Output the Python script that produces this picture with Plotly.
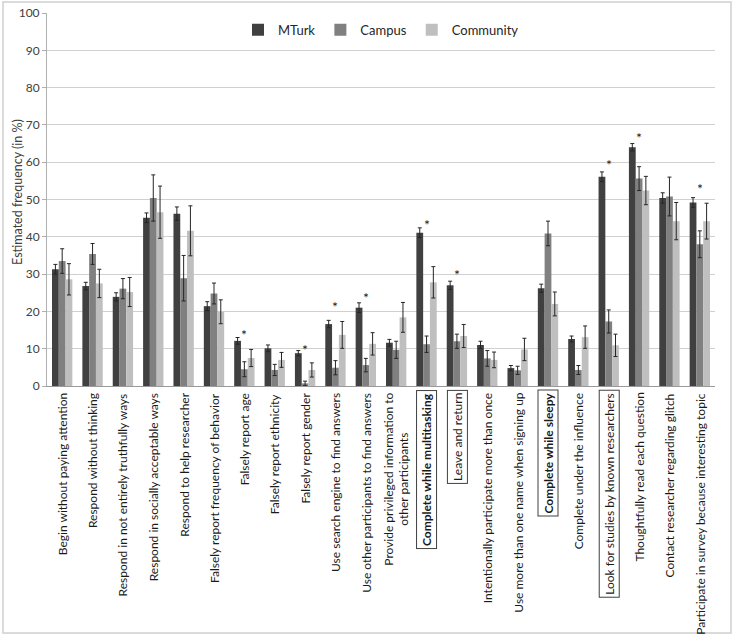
import plotly.graph_objects as go

categories = [
    "Begin without paying attention",
    "Respond without thinking",
    "Respond in not entirely truthfully ways",
    "Respond in socially acceptable ways",
    "Respond to help researcher",
    "Falsely report frequency of behavior",
    "Falsely report age",
    "Falsely report ethnicity",
    "Falsely report gender",
    "Use search engine to find answers",
    "Use other participants to find answers",
    "Provide privileged information to<br>other participants",
    "Complete while multitasking",
    "Leave and return",
    "Intentionally participate more than once",
    "Use more than one name when signing up",
    "Complete while sleepy",
    "Complete under the influence",
    "Look for studies by known researchers",
    "Thoughtfully read each question",
    "Contact researcher regarding glitch",
    "Participate in survey because interesting topic",
]

mturk = [31.3, 26.8, 23.9, 45.1, 46.2, 21.4, 12.1, 10.1, 8.8, 16.6, 21.0, 11.6,
         41.1, 27.0, 11.0, 4.8, 26.2, 12.6, 56.1, 64.0, 50.4, 49.2]
mturk_err = [1.3, 1.0, 1.1, 1.3, 1.8, 1.2, 0.9, 0.9, 0.7, 1.0, 1.3, 0.9,
             1.3, 1.1, 1.0, 0.7, 1.1, 0.8, 1.3, 1.0, 1.4, 1.3]

campus = [33.5, 35.4, 26.1, 50.4, 28.9, 24.8, 4.5, 4.3, 0.7, 4.9, 5.6, 9.7,
          11.2, 12.0, 7.4, 4.2, 40.9, 4.3, 17.3, 55.6, 50.8, 38.0]
campus_err = [3.3, 2.8, 2.7, 6.2, 6.1, 2.8, 2.0, 1.5, 0.6, 1.9, 1.8, 2.3,
              2.2, 1.9, 2.1, 1.1, 3.3, 1.2, 3.1, 3.2, 5.2, 3.6]

community = [28.6, 27.5, 25.2, 46.6, 41.6, 19.9, 7.5, 7.0, 4.3, 13.7, 11.3, 18.4,
             27.8, 13.4, 7.0, 9.8, 22.0, 13.1, 10.9, 52.4, 44.2, 44.2]
community_err = [4.2, 3.8, 3.9, 7.0, 6.7, 3.2, 2.3, 2.0, 1.9, 3.6, 3.0, 4.0,
                 4.2, 3.1, 2.1, 3.0, 3.2, 3.0, 3.0, 3.8, 5.0, 4.8]

# significance markers: category index and level (in %)
star_index = [6, 8, 9, 10, 12, 13, 18, 19, 21]
star_level = [14.5, 10.5, 22.0, 24.4, 44.2, 30.8, 60.3, 67.5, 53.8]

bold_labels = {12, 16}
boxed_labels = {12, 13, 16, 18}

y_ticks = list(range(0, 101, 10))

FONT = "Lato, Carlito, 'Open Sans', sans-serif"

x_pos = list(range(len(categories)))

fig = go.Figure()
for name, vals, errs, color in [
    ("MTurk", mturk, mturk_err, "#404040"),
    ("Campus", campus, campus_err, "#808080"),
    ("Community", community, community_err, "#bfbfbf"),
]:
    fig.add_trace(go.Bar(
        x=x_pos, y=vals, name=name,
        marker=dict(color=color, line=dict(width=0)),
        error_y=dict(type="data", array=errs, visible=True,
                     color="#262626", thickness=1, width=2),
    ))

annotations = []
for i, cat in enumerate(categories):
    txt = f"<b>{cat}</b>" if i in bold_labels else cat
    ann = dict(
        x=i, y=0, xref="x", yref="paper",
        text=txt, textangle=-90, showarrow=False,
        xanchor="center", yanchor="top", yshift=-5,
        align="center",
        font=dict(family=FONT, size=12, color="#1a1a1a"),
    )
    if i in boxed_labels:
        ann.update(bordercolor="#404040", borderwidth=1, borderpad=2, yshift=-4)
    annotations.append(ann)

for idx, lvl in zip(star_index, star_level):
    annotations.append(dict(
        x=idx, y=lvl, xref="x", yref="y", text="*", showarrow=False,
        xanchor="center", yanchor="middle", yshift=-3,
        font=dict(family=FONT, size=14, color="#1a1a1a"),
    ))

annotations.append(dict(
    x=-0.045, y=0.52, xref="paper", yref="paper",
    text="Estimated frequency (in %)", textangle=-90, showarrow=False,
    xanchor="center", yanchor="middle",
    font=dict(family=FONT, size=12.5, color="#404040"),
))

fig.update_layout(
    width=733, height=636,
    margin=dict(l=47, r=18, t=13, b=250, autoexpand=False),
    paper_bgcolor="white", plot_bgcolor="white",
    barmode="group", bargap=0.33, bargroupgap=0,
    font=dict(family=FONT, color="#404040"),
    showlegend=True,
    legend=dict(orientation="h", x=0.5, xanchor="center", y=0.955, yanchor="middle",
                font=dict(family=FONT, size=13, color="#262626"),
                itemwidth=30, bgcolor="rgba(0,0,0,0)"),
    annotations=annotations,
    shapes=[dict(type="rect", xref="paper", yref="paper",
                 x0=-44 / 668, x1=1 + 16 / 668, y0=-247 / 373, y1=1 + 11 / 373,
                 line=dict(color="#d0d0d0", width=1.5), layer="below")],
)

fig.update_xaxes(
    range=[-0.5, len(categories) - 0.5], automargin=False,
    showticklabels=False, ticks="", showgrid=False,
    showline=True, linecolor="#9a9a9a", linewidth=1, zeroline=False,
)
fig.update_yaxes(
    range=[0, 100], tickvals=y_ticks, ticktext=[str(v) for v in y_ticks],
    automargin=False,
    showgrid=True, gridcolor="#d0d0d0", gridwidth=1,
    showline=True, linecolor="#b0b0b0", linewidth=1,
    ticks="outside", ticklen=4, tickcolor="#b0b0b0",
    tickfont=dict(family=FONT, size=12, color="#404040"),
    zeroline=False,
)

fig.write_html(
    "out.html",
    config={"displayModeBar": False},
    post_script="document.body.style.margin='0';document.body.style.overflow='hidden';",
)
